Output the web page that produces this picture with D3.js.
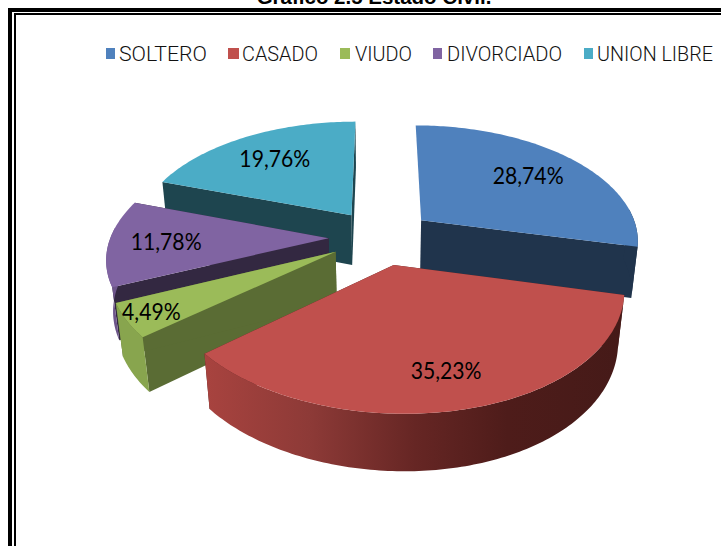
<!DOCTYPE html>
<html><head><meta charset="utf-8">
<style>html,body{margin:0;padding:0;background:#fff;overflow:hidden}svg{display:block}</style>
<script src="https://cdn.jsdelivr.net/npm/d3@7"></script></head>
<body><svg id="c" width="721" height="546"></svg>
<script>
const titleText = "Gráfico 2.5 Estado Civil.";
const categories = ["SOLTERO","CASADO","VIUDO","DIVORCIADO","UNION LIBRE"];
const values = [28.74,35.23,4.49,11.78,19.76];
const colors = ["#4f81bd","#c0504d","#9bbb59","#8064a2","#4bacc6"];

const svg = d3.select("#c");
// frame
const frame = svg.append("g").attr("fill","#000");
frame.append("rect").attr("x",8).attr("y",8).attr("width",713).attr("height",4);
frame.append("rect").attr("x",8).attr("y",8).attr("width",4).attr("height",538);
frame.append("rect").attr("x",14).attr("y",13).attr("width",707).attr("height",2);
frame.append("rect").attr("x",14).attr("y",13).attr("width",2).attr("height",533);
svg.append("text").text(titleText).attr("x",374).attr("y",4).attr("text-anchor","middle")
  .attr("font-family","Liberation Sans").attr("font-weight","bold").attr("font-size",20.5).attr("fill","#000");

// projection
const cx=381, cy=237, F=218, A=115, C=0.16, T=52, G=0.025, EXPL=0.24, SK=6;
function proj(u,v,z){const w=1-C*v+G*z;const vp=Math.max(v,0);return [cx+F*u/w+SK*vp*vp, cy+(A*v+T*z)/w];}
const startA = 0*Math.PI/180;
const arcs = d3.pie().sort(null).startAngle(startA).endAngle(startA+2*Math.PI)(values);
const line = d3.line();
function geom(d){
  const m=(d.startAngle+d.endAngle)/2, ox=EXPL*Math.sin(m), oy=-EXPL*Math.cos(m);
  const pt=(a,r,z)=>proj(ox+r*Math.sin(a),oy-r*Math.cos(a),z);
  const n=Math.max(8,Math.round((d.endAngle-d.startAngle)*60));
  const as=d3.range(n+1).map(i=>d.startAngle+(d.endAngle-d.startAngle)*i/n);
  return {m,pt,as,ox,oy};
}
const mul=(c,k)=>{const r=d3.rgb(c);return d3.rgb(r.r*k,r.g*k,r.b*k).formatHex();};

const defs=svg.append("defs");
const grad=defs.append("linearGradient").attr("id","wallRed").attr("gradientUnits","userSpaceOnUse")
  .attr("x1",205).attr("x2",625).attr("y1",0).attr("y2",0);
[[0,"#a8433f"],[0.25,"#8d3a37"],[0.5,"#662624"],[0.72,"#4e1c1a"],[1,"#451a18"]].forEach(s=>grad.append("stop").attr("offset",s[0]).attr("stop-color",s[1]));

const faceK=[0.4,0.4,0.58,0.4,0.4];
const wallK=[0.4,1,0.88,0.85,0.85];
const order=[4,3,0,2,1];
const labelFrac=[0.70,0.77,0.89,0.74,0.70];
const pie=svg.append("g");
order.forEach(i=>{
  const d=arcs[i],g=geom(d),c=colors[i];
  const top=g.as.map(a=>g.pt(a,1,0));
  const a0=g.pt(0,0,0), a1=g.pt(0,0,1);
  const s=g.as[0],e=g.as[g.as.length-1];
  // radial faces, then the front-facing part of the outer wall, then top
  if(i!==0) pie.append("path").attr("d",line([a0,g.pt(s,1,0),g.pt(s,1,1),a1])+"Z").attr("fill",mul(c,faceK[i]));
  pie.append("path").attr("d",line([a0,g.pt(e,1,0),g.pt(e,1,1),a1])+"Z").attr("fill",mul(c,faceK[i]));
  const wa=g.as.filter(a=>Math.cos(a)<0.1);
  if(wa.length>1){
    const w0=wa.map(a=>g.pt(a,1,0)), w1=wa.map(a=>g.pt(a,1,1)).reverse();
    pie.append("path").attr("d",line(w0.concat(w1))+"Z").attr("fill",i===1?"url(#wallRed)":mul(c,wallK[i]));
  }
  pie.append("path").attr("d",line([a0].concat(top))+"Z").attr("fill",c);
});
// data labels
const lab=svg.append("g").attr("font-family","Lato").attr("font-size",23).attr("fill","#000").attr("text-anchor","middle");
arcs.forEach((d,i)=>{
  const g=geom(d),p=g.pt(g.m,labelFrac[i],0);
  const t=lab.append("text").text(d.value.toFixed(2).replace(".",",")+"%").attr("x",p[0]).attr("y",p[1]+8);
  t.attr("textLength",t.node().getComputedTextLength()*0.92).attr("lengthAdjust","spacingAndGlyphs");
});
// legend
const legX=[106,228,340,433,584], legT=[119,242,355,447,597], legS=[9,11,10,9,9], legW=[88,76,57,115,116];
const leg=svg.append("g").attr("font-family","Roboto").attr("font-weight",300).attr("font-size",21).attr("fill","#111");
categories.forEach((n,i)=>{
  leg.append("rect").attr("x",legX[i]).attr("y",48).attr("width",legS[i]).attr("height",11).attr("fill",colors[i]);
  leg.append("text").text(n).attr("x",legT[i]).attr("y",61).attr("textLength",legW[i]).attr("lengthAdjust","spacingAndGlyphs");
});
</script></body></html>
